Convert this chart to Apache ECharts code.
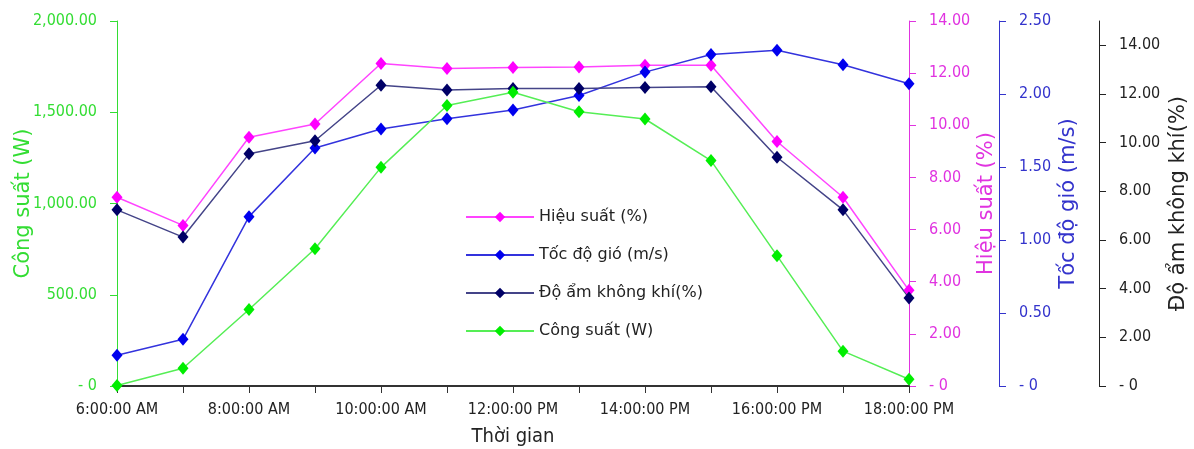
<!DOCTYPE html>
<html>
<head>
<meta charset="utf-8">
<script src="https://cdn.jsdelivr.net/npm/echarts@6/dist/echarts.min.js"></script>
<style>
  html, body { margin: 0; padding: 0; background: #fff; }
  #chart { width: 1194px; height: 449px; }
</style>
</head>
<body>
<div id="chart"></div>
<script>
// gio trong ngay
const hours = [
  "6:00:00 AM", "7:00:00 AM", "8:00:00 AM", "9:00:00 AM", "10:00:00 AM",
  "11:00:00 AM", "12:00:00 PM", "13:00:00 PM", "14:00:00 PM", "15:00:00 PM",
  "16:00:00 PM", "17:00:00 PM", "18:00:00 PM"
];
const congSuat = [3, 97, 419, 752, 1198, 1537, 1610, 1503, 1463, 1235, 714, 191, 37];
const hieuSuat = [7.24, 6.16, 9.54, 10.05, 12.37, 12.18, 12.22, 12.24, 12.3, 12.3, 9.38, 7.24, 3.67];
const tocDoGio = [0.21, 0.32, 1.16, 1.63, 1.76, 1.83, 1.89, 1.99, 2.15, 2.27, 2.30, 2.20, 2.07];
const doAm = [7.24, 6.12, 9.54, 10.08, 12.36, 12.16, 12.23, 12.23, 12.27, 12.3, 9.40, 7.24, 3.62];

const FONT = "'Liberation Sans Narrow', 'DejaVu Sans Condensed', sans-serif";

function fmt(v) {
  if (v === 0) return "- 0";
  return v.toLocaleString("en-US", { minimumFractionDigits: 2, maximumFractionDigits: 2 });
}

function yAxis(color, min, max, interval, name, pos, offset, nameGap, extra) {
  return Object.assign({
    type: "value",
    position: pos,
    offset: offset,
    min: min,
    max: max,
    interval: interval,
    name: name,
    nameLocation: "middle",
    nameRotate: 90,
    nameGap: nameGap,
    nameMoveOverlap: false,
    nameTextStyle: { color: color, fontSize: 21, fontFamily: "DejaVu Sans" },
    splitLine: { show: false },
    axisLine: { show: true, lineStyle: { color: color, width: 1 } },
    axisTick: { show: true, length: 7, lineStyle: { color: color } },
    axisLabel: { color: color, fontSize: 16, fontFamily: FONT, margin: 20, formatter: fmt }
  }, extra || {});
}

const chart = echarts.init(document.getElementById("chart"));

chart.setOption({
  animation: false,
  grid: { left: 117, right: 285, top: 21, bottom: 63, outerBoundsMode: "none", containLabel: false },
  legend: {
    orient: "vertical",
    left: 460,
    top: 204,
    itemWidth: 68,
    itemHeight: 13,
    itemGap: 22,
    textStyle: { fontSize: 16, fontFamily: "DejaVu Sans", color: "#222" },
    data: ["Hiệu suất (%)", "Tốc độ gió (m/s)", "Độ ẩm không khí(%)", "Công suất (W)"]
  },
  xAxis: {
    type: "category",
    boundaryGap: false,
    data: hours,
    name: "Thời gian",
    nameLocation: "middle",
    nameGap: 41,
    nameMoveOverlap: false,
    nameTextStyle: { fontSize: 20, fontFamily: FONT, color: "#222" },
    axisLine: { lineStyle: { color: "#333", width: 2 } },
    axisTick: { interval: 0, length: 7, lineStyle: { color: "#333" } },
    axisLabel: { interval: 1, fontSize: 16, fontFamily: FONT, color: "#222", margin: 16 }
  },
  yAxis: [
    yAxis("#33dd33", 0, 2000, 500, "Công suất (W)", "left", 0, 83),
    yAxis("#e033e0", 0, 14, 2, "Hiệu suất (%)", "right", 0, 67),
    yAxis("#3333cc", 0, 2.5, 0.5, "Tốc độ gió (m/s)", "right", 90, 59),
    yAxis("#222222", 0, 15, 2, "Độ ẩm không khí(%)", "right", 190, 69,
      { axisLabel: { color: "#222", fontSize: 16, fontFamily: FONT, margin: 20, formatter: fmt, showMaxLabel: false } })
  ],
  series: [
    {
      name: "Hiệu suất (%)", type: "line", yAxisIndex: 1, data: hieuSuat,
      symbol: "diamond", symbolSize: [11, 13],
      lineStyle: { color: "#ff44ff", width: 1.5 }, itemStyle: { color: "#ff00ff" }
    },
    {
      name: "Tốc độ gió (m/s)", type: "line", yAxisIndex: 2, data: tocDoGio,
      symbol: "diamond", symbolSize: [11, 13],
      lineStyle: { color: "#3333dd", width: 1.5 }, itemStyle: { color: "#0000ee" }
    },
    {
      name: "Độ ẩm không khí(%)", type: "line", yAxisIndex: 3, data: doAm,
      symbol: "diamond", symbolSize: [11, 13],
      lineStyle: { color: "#444488", width: 1.5 }, itemStyle: { color: "#000066" }
    },
    {
      name: "Công suất (W)", type: "line", yAxisIndex: 0, data: congSuat,
      symbol: "diamond", symbolSize: [11, 13],
      lineStyle: { color: "#55ee55", width: 1.5 }, itemStyle: { color: "#00ee00" }
    }
  ]
});
</script>
</body>
</html>
